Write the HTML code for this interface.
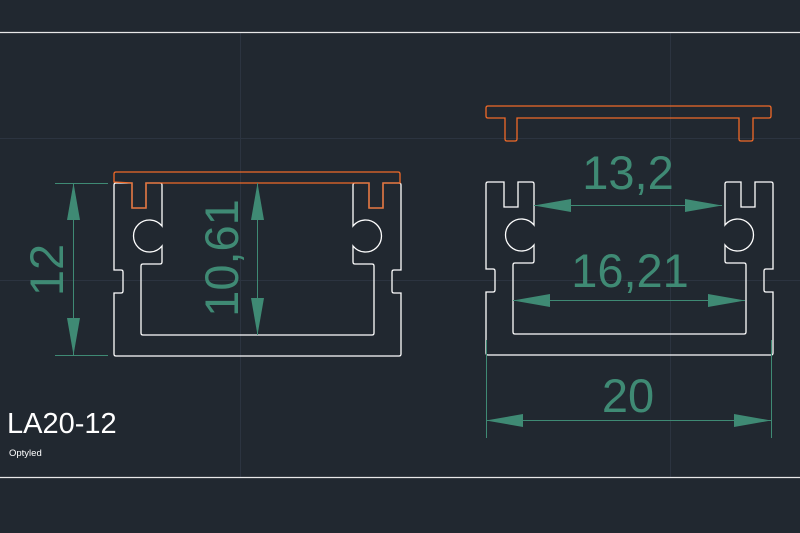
<!DOCTYPE html>
<html><head><meta charset="utf-8"><style>
html,body{margin:0;padding:0;background:#212830;}
svg{display:block}
text{font-family:"Liberation Sans",sans-serif;}
</style></head><body>
<svg width="800" height="533" viewBox="0 0 800 533" xmlns="http://www.w3.org/2000/svg">
<rect width="800" height="533" fill="#212830"/>
<g stroke="#2c3440" stroke-width="1">
<line x1="0" y1="138.5" x2="800" y2="138.5"/>
<line x1="0" y1="280.5" x2="800" y2="280.5"/>
<line x1="240.5" y1="32" x2="240.5" y2="477"/>
<line x1="670.5" y1="32" x2="670.5" y2="477"/>
</g>
<line x1="0" y1="32.5" x2="800" y2="32.5" stroke="#e8e8e8" stroke-width="1.2"/>
<line x1="0" y1="477.5" x2="800" y2="477.5" stroke="#e8e8e8" stroke-width="1.2"/>

<defs>
<path id="prof" fill="none" stroke="#ffffff" stroke-width="1.3" d="
M114,185 Q114,183 116,183 L132,183 L132,208 L146,208 L146,183 L160,183 Q162,183 162,185 L162,226
A16,16 0 1 0 162,246 L162,262 Q162,264 160,264 L143,264 Q141,264 141,266 L141,333 Q141,335 143,335
L372,335 Q374,335 374,333 L374,266 Q374,264 372,264 L355,264 Q353,264 353,262 L353,246
A16,16 0 1 0 353,226 L353,185 Q353,183 355,183 L369,183 L369,208 L383,208 L383,183 L399,183 Q401,183 401,185
L401,270 L394,270 Q392,270 392,272 L392,291 Q392,293 394,293 L401,293 L401,354 Q401,356 399,356
L116,356 Q114,356 114,354 L114,293 L121,293 Q123,293 123,291 L123,272 Q123,270 121,270 L114,270 Z"/>
</defs>
<use href="#prof"/>
<use href="#prof" transform="translate(372,-1)"/>

<!-- left cover -->
<path fill="none" stroke="#f06a28" stroke-width="1.3" d="M114,182 L114,174 Q114,172 116,172 L398,172 Q400,172 400,174 L400,183 L383,183 L383,208 L369,208 L369,183 L146,183 L146,208 L132,208 L132,183 Z"/>
<!-- right cover -->
<path fill="none" stroke="#f06a28" stroke-width="1.3" d="M488,106 L769,106 Q771,106 771,108 L771,116 Q771,118 769,118 L753,118 L753,139 Q753,141 751,141 L741,141 Q739,141 739,139 L739,118 L517,118 L517,139 Q517,141 515,141 L507,141 Q505,141 505,139 L505,118 L488,118 Q486,118 486,116 L486,108 Q486,106 488,106 Z"/>

<g stroke="#3f8a74" stroke-width="1" fill="#3f8a74">
<!-- 12 -->
<line x1="55" y1="183.5" x2="108" y2="183.5"/>
<line x1="55" y1="355.5" x2="108" y2="355.5"/>
<line x1="73.5" y1="183" x2="73.5" y2="355"/>
<polygon points="73.5,183 67,220 80,220" stroke="none"/>
<polygon points="73.5,355 67,318 80,318" stroke="none"/>
<!-- 10,61 -->
<line x1="257.5" y1="183" x2="257.5" y2="335"/>
<polygon points="257.5,183 251,220 264,220" stroke="none"/>
<polygon points="257.5,335 251,298 264,298" stroke="none"/>
<!-- 13,2 -->
<line x1="534" y1="205.5" x2="722" y2="205.5"/>
<polygon points="534,205.5 571,199 571,212" stroke="none"/>
<polygon points="722,205.5 685,199 685,212" stroke="none"/>
<!-- 16,21 -->
<line x1="513" y1="300.5" x2="745" y2="300.5"/>
<polygon points="513,300.5 550,294 550,307" stroke="none"/>
<polygon points="745,300.5 708,294 708,307" stroke="none"/>
<!-- 20 -->
<line x1="486.5" y1="340" x2="486.5" y2="438"/>
<line x1="771.5" y1="340" x2="771.5" y2="438"/>
<line x1="486" y1="420.5" x2="771" y2="420.5"/>
<polygon points="486,420.5 523,414 523,427" stroke="none"/>
<polygon points="771,420.5 734,414 734,427" stroke="none"/>
</g>
<g fill="#3f8a74" font-size="47">
<text x="0" y="0" text-anchor="middle" transform="translate(63,270) rotate(-90)">12</text>
<text x="0" y="0" text-anchor="middle" transform="translate(238,258) rotate(-90)">10,61</text>
<text x="628" y="189" text-anchor="middle">13,2</text>
<text x="630" y="287" text-anchor="middle">16,21</text>
<text x="628" y="412" text-anchor="middle">20</text>
</g>
<text x="7" y="433" font-size="29" fill="#ffffff">LA20-12</text>
<text x="9" y="456" font-size="9.5" fill="#ffffff">Optyled</text>
</svg>
</body></html>
